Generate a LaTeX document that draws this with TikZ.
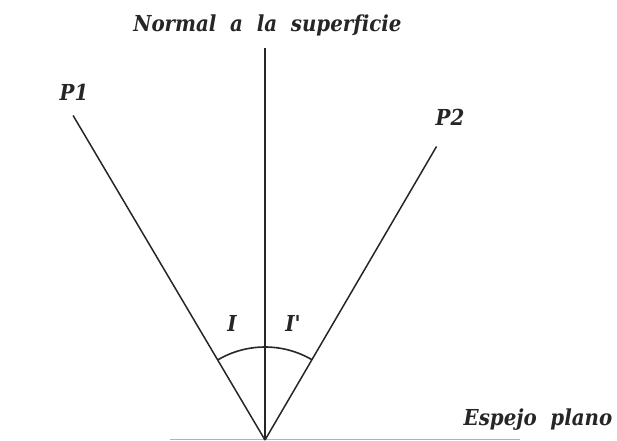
\documentclass[tikz,border=0pt]{standalone}
\usepackage{fontspec}
\usetikzlibrary{calc}
\newfontfamily\lblfont[Ligatures={NoCommon}]{DejaVu Serif Condensed}
\begin{document}
\begin{tikzpicture}[x=1pt,y=1pt,
  lbl/.style={font=\lblfont\bfseries\itshape\fontsize{22}{22}\selectfont, inner sep=0pt, text=black!85},
  ray/.style={line width=1.5pt, black!85},
  mirror/.style={line width=0.8pt, black!30}]
\useasboundingbox (0,0) rectangle (617,440);
\coordinate (O) at (265,0);
\coordinate (N) at (265,392);
\coordinate (A) at ($(O)+(120.6:377)$);
\coordinate (B) at ($(O)+(59.7:340)$);
\coordinate (M1) at (170,1);
\coordinate (M2) at (520,1);
\draw[mirror] (M1) -- (M2);
\draw[line width=1.2pt, black!85] (O) -- (N);
\draw[ray] (O) -- (A);
\draw[ray] (O) -- (B);
\draw[line width=1.6pt, black!85] ($(O)+(120.6:93)$) arc[start angle=120.6, end angle=59.7, radius=93];
\node[lbl] (tn) at (267.5,415) {Normal\ \ a\ \ la\ \ superficie};
\node[lbl] (tp1) at (74,347.5) {P1};
\node[lbl] (tp2) at (450,322.5) {P2};
\node[lbl] (ti) at (232,117) {I};
\node[lbl] (tip) at (293,117) {I'};
\node[lbl] (te) at (538,20.5) {Espejo\ \ plano};
\end{tikzpicture}
\end{document}
